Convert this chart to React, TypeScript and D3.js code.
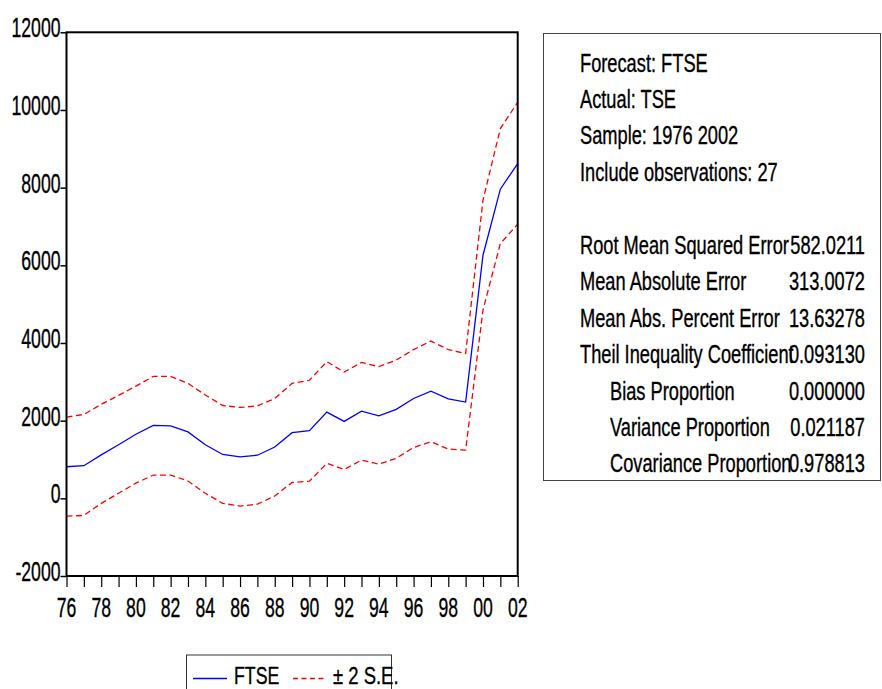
import React, { useRef, useEffect } from "react";
import * as d3 from "d3";

// FTSE forecast 1976-2002 with +/- 2 S.E. band
const years = [
  1976, 1977, 1978, 1979, 1980, 1981, 1982, 1983, 1984, 1985, 1986, 1987, 1988, 1989,
  1990, 1991, 1992, 1993, 1994, 1995, 1996, 1997, 1998, 1999, 2000, 2001, 2002,
];
const forecast = [
  813, 840, 1120, 1380, 1650, 1880, 1865, 1710, 1380, 1130, 1070, 1110, 1320, 1690,
  1740, 2220, 1980, 2245, 2125, 2290, 2570, 2760, 2560, 2480, 6260, 7960, 8620,
];
const upper = [
  2090, 2160, 2420, 2650, 2890, 3140, 3140, 2960, 2660, 2390, 2340, 2380, 2570, 2960,
  3040, 3520, 3250, 3500, 3390, 3560, 3830, 4050, 3830, 3730, 7680, 9520, 10200,
];
const lower = [
  -460, -440, -130, 130, 390, 600, 600, 445, 130, -130, -200, -150, 60, 410,
  440, 900, 745, 985, 880, 1030, 1310, 1455, 1270, 1240, 4850, 6560, 7060,
];
const yTicks = [-2000, 0, 2000, 4000, 6000, 8000, 10000, 12000];

const statsHeader = [
  "Forecast: FTSE",
  "Actual: TSE",
  "Sample: 1976 2002",
  "Include observations: 27",
];
const statsLabels = [
  "Root Mean Squared Error",
  "Mean Absolute Error",
  "Mean Abs. Percent Error",
  "Theil Inequality Coefficient",
  "Bias Proportion",
  "Variance Proportion",
  "Covariance Proportion",
];
const statsValues = ["582.0211", "313.0072", "13.63278", "0.093130", "0.000000", "0.021187", "0.978813"];
const statsIndent = [false, false, false, false, true, true, true];

const FONT = "'Liberation Sans', Arial, sans-serif";

const App = () => {
  const svgRef = useRef<SVGSVGElement | null>(null);

  useEffect(() => {
    const svg = d3.select(svgRef.current);
    svg.selectAll("*").remove();

    const left = 66.5, right = 517.7, top = 32.3, bottom = 576;

    const x = d3.scaleLinear().domain([1976, 2002]).range([left, right]);
    const y = d3.scaleLinear().domain([-2000, 12000]).range([bottom, top]);

    // condensed text helper (scaled horizontally, slightly heavier stroke)
    const label = (g, tx, ty, str, size, sx, anchor = "start") =>
      g
        .append("text")
        .attr("transform", `translate(${tx},${ty}) scale(${sx},1)`)
        .attr("text-anchor", anchor)
        .style("font-family", FONT)
        .style("font-size", `${size}px`)
        .attr("fill", "#000")
        .attr("stroke", "#000")
        .attr("stroke-width", 0.35)
        .text(str);

    // y axis ticks
    const yAxis = svg
      .append("g")
      .attr("transform", `translate(${left},0)`)
      .call(d3.axisLeft(y).tickValues(yTicks).tickSize(6).tickFormat(() => ""));
    yAxis.select(".domain").remove();
    yAxis.selectAll("line").attr("stroke", "#000").attr("stroke-width", 1.5);
    yTicks.forEach((t) => label(svg, left - 6, y(t) + 5, String(t), 28, 0.63, "end"));

    // x axis ticks
    const xAxis = svg
      .append("g")
      .attr("transform", `translate(0,${bottom})`)
      .call(d3.axisBottom(x).tickValues(years).tickSize(11).tickFormat(() => ""));
    xAxis.select(".domain").remove();
    xAxis.selectAll("line").attr("stroke", "#000").attr("stroke-width", 1.2);
    years
      .filter((yr) => yr % 2 === 0)
      .forEach((yr) => label(svg, x(yr), 617.3, d3.format("02d")(yr % 100), 28, 0.63, "middle"));

    // lines
    const line = d3
      .line<number>()
      .x((_, i) => x(years[i]))
      .y((d) => y(d));

    [upper, lower].forEach((s) => {
      svg
        .append("path")
        .attr("d", line(s))
        .attr("fill", "none")
        .attr("stroke", "#ff0000")
        .attr("stroke-width", 1.3)
        .attr("stroke-dasharray", "6,3.5");
    });
    svg
      .append("path")
      .attr("d", line(forecast))
      .attr("fill", "none")
      .attr("stroke", "#0000ff")
      .attr("stroke-width", 1.3);

    // plot frame
    svg
      .append("rect")
      .attr("x", left)
      .attr("y", top)
      .attr("width", right - left)
      .attr("height", bottom - top)
      .attr("fill", "none")
      .attr("stroke", "#000")
      .attr("stroke-width", 2);

    // stats box
    svg
      .append("rect")
      .attr("x", 543.5)
      .attr("y", 33.5)
      .attr("width", 337)
      .attr("height", 447)
      .attr("fill", "none")
      .attr("stroke", "#444")
      .attr("stroke-width", 1);

    const lineY = (i) => 71.5 + i * 36.45;
    statsHeader.forEach((s, i) => label(svg, 580, lineY(i), s, 25, 0.73));
    statsLabels.forEach((s, i) => {
      label(svg, statsIndent[i] ? 610 : 580, lineY(i + 5), s, 25, 0.73);
      label(svg, 865, lineY(i + 5), statsValues[i], 25, 0.73, "end");
    });

    // legend
    svg
      .append("rect")
      .attr("x", 186.5)
      .attr("y", 655)
      .attr("width", 205)
      .attr("height", 60)
      .attr("fill", "none")
      .attr("stroke", "#333")
      .attr("stroke-width", 1);
    svg
      .append("line")
      .attr("x1", 193)
      .attr("x2", 227)
      .attr("y1", 678.5)
      .attr("y2", 678.5)
      .attr("stroke", "#0000ff")
      .attr("stroke-width", 1.3);
    label(svg, 234, 684, "FTSE", 24, 0.74);
    svg
      .append("line")
      .attr("x1", 293)
      .attr("x2", 327)
      .attr("y1", 678.5)
      .attr("y2", 678.5)
      .attr("stroke", "#ff0000")
      .attr("stroke-width", 1.3)
      .attr("stroke-dasharray", "5,3.5");
    label(svg, 333, 684, "± 2 S.E.", 24, 0.77);
  }, []);

  return (
    <svg
      ref={svgRef}
      width={882}
      height={689}
      style={{ position: "absolute", left: 0, top: 0, background: "#fff" }}
    />
  );
};

export default App;
